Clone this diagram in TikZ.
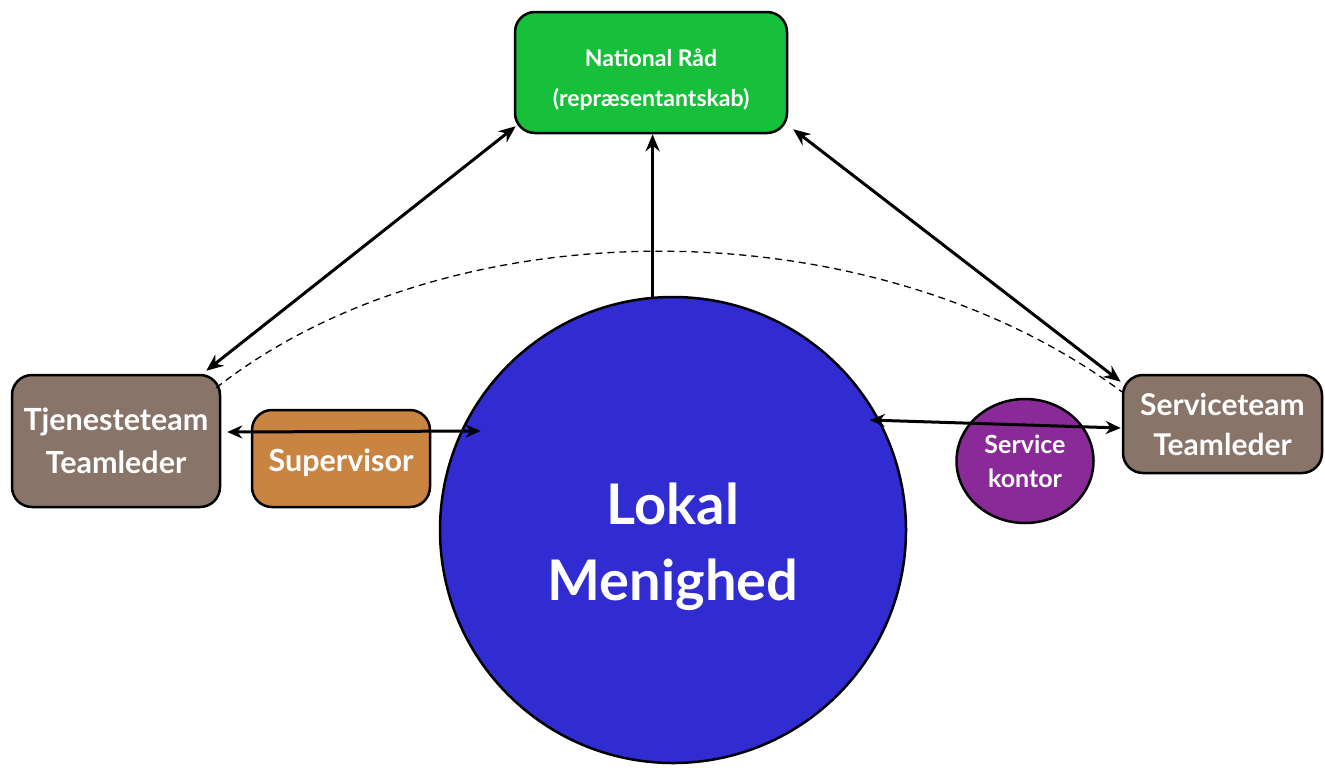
\documentclass[tikz,border=0pt]{standalone}
\usepackage{fontspec}
\setmainfont{Lato}
\usetikzlibrary{arrows.meta,shapes.geometric}
\definecolor{natgreen}{RGB}{22,192,58}
\definecolor{tjbrown}{RGB}{136,116,104}
\definecolor{suporange}{RGB}{200,132,64}
\definecolor{skpurple}{RGB}{138,42,152}
\definecolor{lokblue}{RGB}{48,44,210}
\tikzset{
  box/.style={draw=black, line width=2.5pt, rounded corners=20pt, text=white, align=center, font=\bfseries, inner sep=0pt},
  conn/.style={line width=3pt, {Stealth[length=17pt,width=14pt]}-{Stealth[length=17pt,width=14pt]}},
  oneway/.style={line width=3pt, -{Stealth[length=17pt,width=14pt]}},
  hconn/.style={line width=3pt, {Stealth[length=15pt,width=13pt]}-{Stealth[length=15pt,width=13pt]}},
  dashconn/.style={line width=1.3pt, dash pattern=on 7pt off 5pt}
}
\begin{document}
\begin{tikzpicture}[x=1pt,y=-1pt]
\useasboundingbox (0,0) rectangle (1325,780);
\node[box, fill=natgreen, minimum width=272pt, minimum height=121pt, font=\bfseries\fontsize{23}{40}\selectfont] (nat) at (651,72.5) {\rule{0pt}{31pt}National Råd\\(repræsentantskab)};
\node[box, fill=tjbrown, minimum width=208pt, minimum height=132pt, font=\bfseries\fontsize{30.5}{43}\selectfont] (tj) at (116,441) {Tjenesteteam\\Teamleder};
\node[box, fill=suporange, minimum width=178pt, minimum height=97pt, font=\bfseries\fontsize{30.5}{40}\selectfont] (sup) at (341,458.5) {\rule{0pt}{32pt}Supervisor};
\node[box, fill=tjbrown, minimum width=199pt, minimum height=98pt, font=\bfseries\fontsize{30}{40}\selectfont] (srv) at (1222.5,424) {Serviceteam\\Teamleder};
\node[ellipse, draw=black, line width=2.5pt, fill=skpurple, text=white, align=center, minimum width=137pt, minimum height=124pt, inner sep=0pt, font=\bfseries\fontsize{25}{34}\selectfont] (sk) at (1025,461) {Service\\kontor};
\node[circle, draw=black, line width=2.5pt, fill=lokblue, text=white, align=center, minimum size=466pt, inner sep=0pt, font=\bfseries\fontsize{56}{76}\selectfont] (lok) at (673,530) {\rule{0pt}{76pt}Lokal\\Menighed};
% dashed arc
\coordinate (dl) at ([xshift=-5pt,yshift=-14pt]tj.north east);
\coordinate (dr) at ([yshift=-18pt]srv.north west);
\draw[dashconn] (dl) .. controls (450,205) and (870,205) .. (dr);
% connectors
\draw[oneway] (lok.95) -- (lok.95 |- nat.south);
\draw[conn] ([xshift=2pt,yshift=8pt]nat.south west) -- ([xshift=-15pt,yshift=3pt]tj.north east);
\draw[conn] ([xshift=5pt,yshift=5pt]nat.south east) -- ([xshift=-1pt,yshift=-8pt]srv.north west);
\draw[hconn] ([xshift=6pt,yshift=9pt]tj.east) -- ([xshift=20pt]lok.155);
\draw[hconn] ([xshift=-10pt]lok.28) -- ([xshift=-1pt,yshift=-4pt]srv.west);
\end{tikzpicture}
\end{document}
